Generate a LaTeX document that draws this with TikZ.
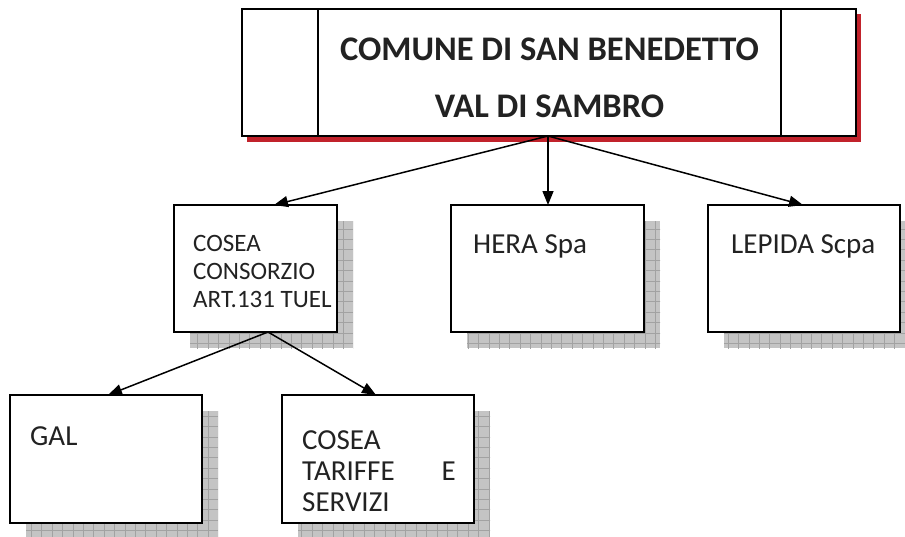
\documentclass[tikz,border=0pt]{standalone}
\usepackage{fontspec}
\setmainfont{Carlito}
\usetikzlibrary{arrows.meta}
\definecolor{shadowred}{HTML}{C1222B}
\definecolor{shgray}{HTML}{C4C4C4}
\definecolor{shline}{HTML}{A2A2A2}
\definecolor{txtcol}{HTML}{222222}
\tikzset{
  boxst/.style={draw=black, line width=1.8pt, fill=white, inner sep=0pt, outer sep=0pt, anchor=north west},
  arr/.style={line width=1.5pt, -{Triangle[length=14pt,width=11pt]}},
  txt/.style={anchor=west, inner sep=0pt, text=txtcol, font=\fontsize{29}{32}\selectfont},
  smalltxt/.style={anchor=west, inner sep=0pt, text=txtcol, font=\fontsize{25}{28}\selectfont},
  titletxt/.style={align=center, inner sep=0pt, text=txtcol, font=\bfseries\fontsize{34.5}{57}\selectfont}
}
\newcommand\myshbox[5]{%
  \fill[shgray] (#2+16,#3+16) rectangle (#4+16,#5+16);
  \begin{scope}
    \clip (#2+16,#3+16) rectangle (#4+16,#5+16);
    \draw[shline, line width=0.6pt, step=10.4pt] (#2+16,#3+16) grid (#4+26,#5+26);
  \end{scope}
  \node[boxst, minimum width=#4-#2, minimum height=#5-#3] (#1) at (#2,#3) {};
}
\begin{document}
\begin{tikzpicture}[x=1pt,y=-1pt]
\useasboundingbox (0,0) rectangle (905,536);
% top box
\fill[shadowred] (247,14) rectangle (861,142);
\node[boxst, minimum width=614, minimum height=127] (top) at (242,9) {};
\coordinate (il) at (318,9);
\coordinate (ir) at (781,9);
\draw[line width=1.8pt] (il) -- (il |- top.south);
\draw[line width=1.8pt] (ir) -- (ir |- top.south);
\node[titletxt] (title) at (549.5,78) {COMUNE DI SAN BENEDETTO\\VAL DI SAMBRO};
% second row
\myshbox{cosea}{174}{205}{337}{332}
\myshbox{hera}{451}{205}{644}{332}
\myshbox{lepida}{708}{205}{900}{332}
% third row
\myshbox{gal}{10}{395}{202}{523}
\myshbox{tariffe}{282}{395}{474}{523}
% texts
\node[smalltxt] (t1) at (193,243) {COSEA};
\node[smalltxt] (t2) at (193,271) {CONSORZIO};
\node[smalltxt] (t3) at (193,299) {ART.131 TUEL};
\node[txt] (herat) at (473,246) {HERA Spa};
\node[txt] (lepidat) at (731,246) {LEPIDA Scpa};
\node[txt] (galt) at (30,436) {GAL};
\node[txt] (s1) at (302,440) {COSEA};
\node[txt] (s2) at (302,471) {TARIFFE};
\node[txt, anchor=east] (s2e) at (456,471) {E};
\node[txt] (s3) at (302,502) {SERVIZI};
% connectors
\coordinate (tb) at (548,136);
\coordinate (cb) at (268,332);
\draw[arr] (tb) -- (274,205);
\draw[arr] (tb) -- (tb |- hera.north);
\draw[arr] (tb) -- (803,205);
\draw[arr] (cb) -- (108,395);
\draw[arr] (cb) -- (376,395);
\end{tikzpicture}
\end{document}
